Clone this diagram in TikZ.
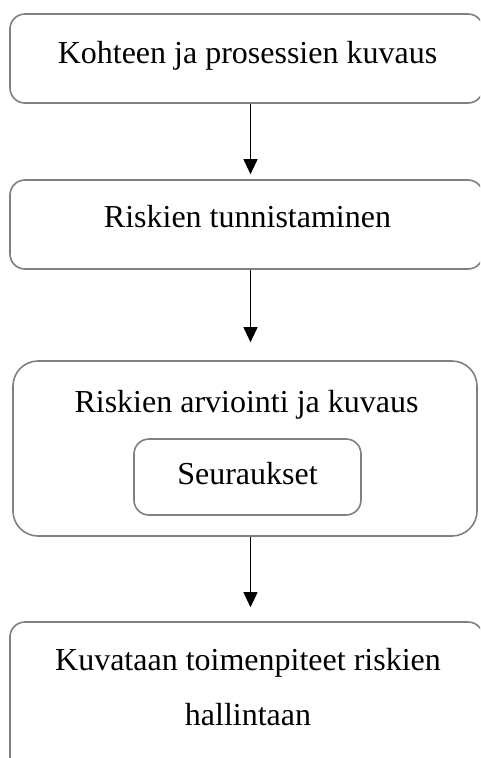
\documentclass[tikz,border=0pt]{standalone}
\usepackage{fontspec}
\setmainfont{Liberation Serif}
\usetikzlibrary{arrows.meta}
\tikzset{
  laatikko/.style={draw=gray, line width=1.6pt, rounded corners=15pt, inner sep=0pt},
  teksti/.style={anchor=base, font=\fontsize{32}{55}\selectfont},
  nuoli/.style={-{Triangle[length=15pt,width=14pt]}, line width=0.9pt}
}

\begin{document}
\begin{tikzpicture}[x=1pt, y=-1pt]
\useasboundingbox (0,0) rectangle (480,758);
\clip (0,0) rectangle (480,758);

% Laatikot
\node[laatikko, minimum width=473pt, minimum height=89pt] (kohde) at (246.5,58.5) {};
\node[laatikko, minimum width=473pt, minimum height=89pt] (riskit) at (246.5,224.5) {};
\node[laatikko, rounded corners=25pt, minimum width=464pt, minimum height=175pt] (arvio) at (245,448.5) {};
\node[laatikko, minimum width=227pt, minimum height=76pt] (seuraukset) at (247.5,477) {};
\node[laatikko, minimum width=473pt, minimum height=158pt] (hallinta) at (246.5,701) {};

% Tekstit
\node[teksti] (kohdeT) at (247.5,63) {Kohteen ja prosessien kuvaus};
\node[teksti] (riskitT) at (247.5,227) {Riskien tunnistaminen};
\node[teksti] (arvioT) at (246.5,412) {Riskien arviointi ja kuvaus};
\node[teksti] (seurauksetT) at (247.5,484) {Seuraukset};
\node[teksti] (hallintaT1) at (248,670) {Kuvataan toimenpiteet riskien};
\node[teksti] (hallintaT2) at (248,725) {hallintaan};

% Nuolet
\coordinate (akseli) at (250.5,0);
\draw[nuoli, shorten >=5pt] (kohde.south -| akseli) -- (riskit.north -| akseli);
\draw[nuoli, shorten >=18pt] (riskit.south -| akseli) -- (arvio.north -| akseli);
\draw[nuoli, shorten >=14pt] (arvio.south -| akseli) -- (hallinta.north -| akseli);

\end{tikzpicture}
\end{document}
